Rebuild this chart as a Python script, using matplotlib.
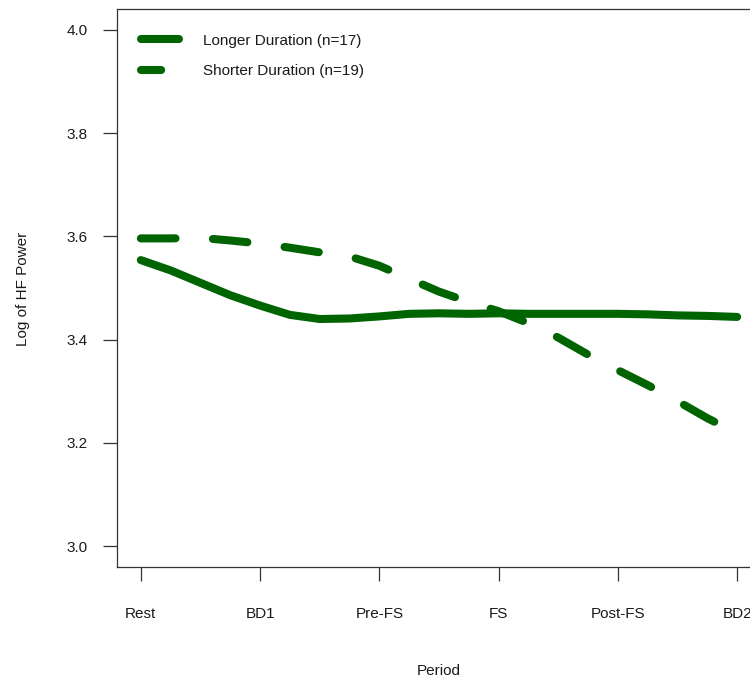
import numpy as np
import matplotlib.pyplot as plt

plt.rcParams['font.family'] = ['Liberation Sans', 'DejaVu Sans']

# periods of the protocol
periods = ['Rest', 'BD1', 'Pre-FS', 'FS', 'Post-FS', 'BD2']

# smoothed group curves, read every quarter period
curve_x = [1.0, 1.25, 1.5, 1.75, 2.0, 2.25, 2.5, 2.75, 3.0, 3.25, 3.5,
           3.75, 4.0, 4.25, 4.5, 4.75, 5.0, 5.25, 5.5, 5.75, 6.0]
longer = [3.554, 3.534, 3.510, 3.486, 3.466, 3.448, 3.440, 3.441, 3.445, 3.450, 3.451,
          3.450, 3.451, 3.450, 3.450, 3.450, 3.450, 3.449, 3.447, 3.446, 3.444]
shorter = [3.596, 3.596, 3.597, 3.592, 3.586, 3.578, 3.569, 3.561, 3.543, 3.518, 3.493,
           3.473, 3.455, 3.432, 3.404, 3.371, 3.341, 3.312, 3.281, 3.248, 3.219]

labels = ['Longer Duration (n=17)', 'Shorter Duration (n=19)']
green = '#006400'
txt = '#1a1a1a'
lw = 5.8

fig = plt.figure(figsize=(7.5, 6.82), dpi=100)
ax = fig.add_axes([117/750, 1 - 567/682, 644/750, 558/682])

ax.plot(curve_x, longer, color=green, lw=lw, solid_capstyle='round',
        solid_joinstyle='round', label=labels[0])
ax.plot(curve_x, shorter, color=green, lw=lw, dashes=(4.3, 4.65),
        dash_capstyle='round', dash_joinstyle='round', label=labels[1])

ax.set_xlim(0.8, 6.2)
ax.set_ylim(2.96, 4.04)
ax.set_xticks(range(1, 7))
ax.set_xticklabels(periods)
ax.set_yticks([3.0, 3.2, 3.4, 3.6, 3.8, 4.0])
ax.set_yticklabels(['3.0', '3.2', '3.4', '3.6', '3.8', '4.0'])

for s in ['left', 'bottom', 'top', 'right']:
    ax.spines[s].set_linewidth(0.9)
    ax.spines[s].set_color('#333333')
ax.tick_params(axis='both', direction='out', length=10, width=0.9,
               color='#333333', labelsize=11, labelcolor=txt)
ax.tick_params(axis='x', pad=18.5)
ax.tick_params(axis='y', pad=11)

fig.text(23/750, 1 - 289/682, 'Log of HF Power', rotation=90,
         ha='center', va='center', fontsize=11, color=txt)
fig.text(439/750, 1 - 671/682, 'Period', ha='center', va='center',
         fontsize=11, color=txt)

leg = ax.legend(loc='upper left', bbox_to_anchor=(0.0373, 0.956),
                frameon=False, fontsize=11, handlelength=2.5,
                handletextpad=1.55, labelspacing=1.1, borderpad=0,
                borderaxespad=0)
for t in leg.get_texts():
    t.set_color(txt)
leg.legend_handles[1].set_dashes((2.5, 10))

fig.savefig('out.png', dpi=100)
